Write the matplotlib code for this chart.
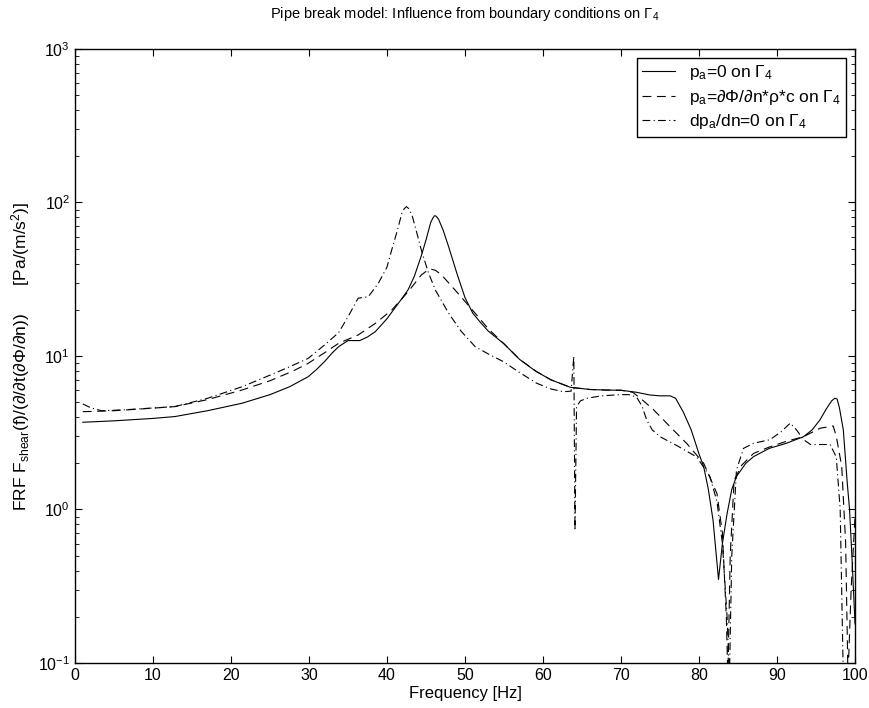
import numpy as np
import matplotlib
matplotlib.use("Agg")
import matplotlib.pyplot as plt

plt.rcParams['font.family'] = ['Liberation Sans', 'DejaVu Sans']
plt.rcParams['mathtext.fontset'] = 'custom'
plt.rcParams['mathtext.rm'] = 'Liberation Sans'
plt.rcParams['mathtext.it'] = 'Liberation Sans'
plt.rcParams['mathtext.default'] = 'regular'

# p_a = 0 on Gamma_4 (solid)
f_solid = [1, 5, 10, 12.8, 17, 21.4, 25, 27.5, 29.9, 31, 32, 33, 33.8, 35, 36.5, 37.5, 38.5, 40, 41, 42,
           42.7, 43.5, 44.4, 45, 45.6, 45.9, 46.1, 46.3, 46.6, 47.2, 47.9, 49, 50, 51, 52, 53, 55, 57, 59,
           61, 63.5, 66, 68, 70, 72, 73.7, 75, 76.3, 77, 78, 79, 80, 80.6, 81.2, 81.8, 82.5, 83, 83.6,
           84.2, 84.8, 86, 87, 89, 91.2, 93.4, 94.5, 95.5, 96.3, 97, 97.4, 97.7, 98, 98.5, 99, 99.3,
           99.6, 100]
v_solid = [3.7, 3.78, 3.92, 4.03, 4.4, 4.92, 5.6, 6.3, 7.33, 8.2, 9.2, 10.5, 11.5, 12.6, 12.6, 13.3, 14.4,
           17.5, 20.5, 24, 27, 33, 45, 57, 74, 79.5, 82, 81.5, 78, 66, 51.5, 34, 24, 19, 16.5, 14.5, 12,
           9.5, 8, 7.0, 6.25, 6.05, 6.0, 5.98, 5.8, 5.57, 5.5, 5.5, 5.3, 4.3, 3.3, 2.3, 1.9, 1.35, 0.85,
           0.35, 0.6, 0.94, 1.35, 1.64, 2.0, 2.21, 2.5, 2.7, 2.98, 3.3, 3.83, 4.5, 5.1, 5.3, 5.25, 4.6,
           3.3, 1.5, 1.0, 0.5, 0.18]

# p_a = dPhi/dn * rho * c on Gamma_4 (dashed)
f_dash = [1, 2, 5, 8, 12.8, 17, 21.4, 25, 28, 29.9, 32, 33.8, 36.3, 38.5, 40.6, 42.7, 44.4, 45.2, 45.7,
          46.2, 47, 49.1, 51.3, 53, 55, 57, 59.2, 61, 63.5, 66, 68, 70, 71.5, 72.5, 74.2, 76.3, 78.4,
          80.6, 82.3, 83, 83.5, 83.7, 84, 84.5, 85.5, 87, 89, 91.2, 93.4, 95.5, 97.2, 97.6, 98.3, 98.8,
          99.1, 99.5, 100]
v_dash = [4.34, 4.35, 4.4, 4.5, 4.68, 5.2, 6.0, 6.9, 8.0, 8.96, 10.5, 12.1, 13.7, 16.3, 19.9, 26.2, 33.7,
          36.2, 36.7, 36.2, 33.7, 25.6, 19.0, 15, 12, 9.5, 7.9, 7.0, 6.25, 6.05, 6.0, 5.98, 5.8, 5.3, 4.45,
          3.46, 2.7, 2.0, 1.27, 0.7, 0.2, 0.08, 0.5, 1.55, 1.95, 2.32, 2.55, 2.78, 2.98, 3.38, 3.5, 3.0,
          1.9, 0.6, 0.08, 0.3, 0.9]

# dp_a/dn = 0 on Gamma_4 (dash-dot)
f_dd = [1, 2, 3.4, 6, 9, 12.8, 17, 21.4, 25, 27.5, 29.9, 32, 33.8, 35, 36.3, 37.6, 38.9, 40, 40.6, 41.3,
        41.9, 42.2, 42.5, 42.8, 43.2, 43.8, 44.4, 45.3, 46.2, 47.9, 49.5, 51.3, 53, 54.9, 57, 59.2, 61,
        62.6, 63.6, 63.95, 64.1, 64.3, 64.8, 65.6, 67.5, 69.9, 71, 72, 72.7, 73.3, 74, 75, 77.2, 79.7,
        81.4, 82.3, 83, 83.6, 83.9, 84.2, 84.8, 85.7, 87, 89.1, 90.5, 91.7, 92.5, 93.4, 94.3, 96.8,
        97.6, 98.1, 98.5]
v_dd = [4.87, 4.6, 4.4, 4.45, 4.55, 4.68, 5.3, 6.3, 7.5, 8.5, 9.65, 11.8, 14.2, 18.0, 23.8, 24.3, 29.8,
        38, 49, 65, 85, 91, 94, 91, 83, 64, 49, 35, 26.9, 19.0, 14.5, 11.5, 10.3, 9.2, 7.8, 6.64, 6.1,
        5.85, 5.9, 10.0, 0.73, 4.68, 5.1, 5.3, 5.5, 5.6, 5.6, 5.4, 4.7, 3.83, 3.3, 2.98, 2.6, 2.2, 1.64,
        1.13, 0.6, 0.2, 0.08, 0.5, 1.8, 2.5, 2.7, 2.85, 3.2, 3.65, 3.3, 2.85, 2.65, 2.65, 2.2, 1.0, 0.08]

fig = plt.figure(figsize=(8.69, 7.08), dpi=100)
ax = fig.add_axes([0.0863, 0.0636, 0.8976, 0.8672])

lw = 0.8
ax.plot(f_solid, v_solid, color='black', lw=lw, label='p$_a$=0 on Γ$_4$')
ax.plot(f_dash, v_dash, color='black', lw=lw, linestyle=(0, (8, 5)),
        label='p$_a$=∂Φ/∂n*ρ*c on Γ$_4$')
ax.plot(f_dd, v_dd, color='black', lw=lw, linestyle=(0, (7, 3, 1, 3)),
        label='dp$_a$/dn=0 on Γ$_4$')

ax.set_yscale('log')
ax.set_xlim(0, 100)
ax.set_ylim(0.1, 1000)
ax.set_xticks(np.arange(0, 101, 10))
ax.tick_params(which='both', direction='in', top=True, right=True, labelsize=11.5)
ax.tick_params(which='major', length=5)
ax.tick_params(which='minor', length=3)
for s in ax.spines.values():
    s.set_linewidth(1.0)

ax.set_title('Pipe break model: Influence from boundary conditions on Γ$_4$', fontsize=10.5, pad=22)
ax.set_xlabel('Frequency [Hz]', fontsize=12, labelpad=2)
ax.set_ylabel('FRF F$_{shear}$(f)/(∂/∂t(∂Φ/∂n))      [Pa/(m/s$^2$)]', fontsize=12.5, labelpad=4)

leg = ax.legend(loc='upper right', fontsize=12.5, fancybox=False, framealpha=1,
                edgecolor='black', borderaxespad=0.5, handlelength=1.9, handletextpad=0.8,
                labelspacing=0.3, borderpad=0.3)
leg.get_frame().set_linewidth(1.0)

fig.savefig('out.png', dpi=100)
